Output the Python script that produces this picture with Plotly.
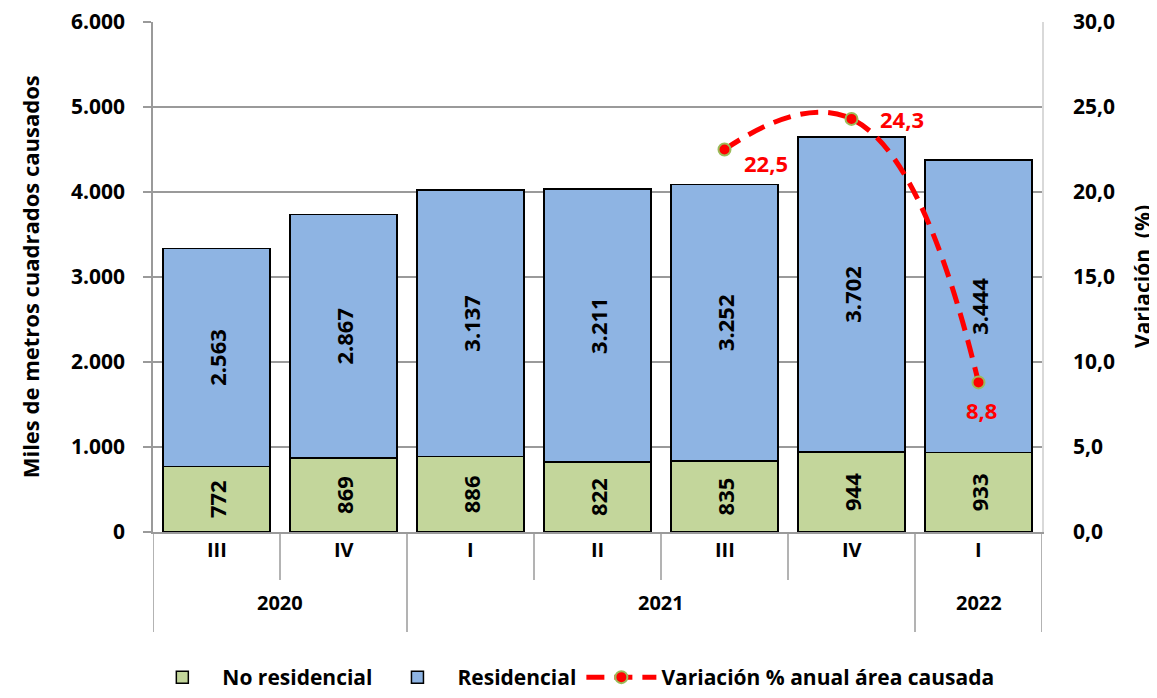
import plotly.graph_objects as go

quarters = ["III", "IV", "I", "II", "III", "IV", "I"]
years = ["2020", "2020", "2021", "2021", "2021", "2021", "2022"]
no_residencial = [772, 869, 886, 822, 835, 944, 933]
residencial = [2563, 2867, 3137, 3211, 3252, 3702, 3444]
variacion = [None, None, None, None, 22.5, 24.3, 8.8]

cats = [f"{q} {y}" for q, y in zip(quarters, years)]

FONT = "Open Sans"
GREEN = "#C3D69B"
BLUE = "#8EB4E3"
GRID = "#9A9A9A"
RED = "#FF0000"

fig = go.Figure()
fig.add_trace(go.Bar(
    x=cats, y=no_residencial, name="No residencial",
    marker=dict(color=GREEN, line=dict(color="black", width=1.5)),
    text=no_residencial, texttemplate="%{y:,}", textposition="inside",
    insidetextanchor="middle", textangle=-90,
    textfont=dict(family=FONT, size=22, color="black", weight="bold"),
))
fig.add_trace(go.Bar(
    x=cats, y=residencial, name="Residencial",
    marker=dict(color=BLUE, line=dict(color="black", width=1.5)),
    text=residencial, texttemplate="%{y:,}", textposition="inside",
    insidetextanchor="middle", textangle=-90,
    textfont=dict(family=FONT, size=22, color="black", weight="bold"),
))
lx = [c for c, v in zip(cats, variacion) if v is not None]
ly = [v for v in variacion if v is not None]
fig.add_trace(go.Scatter(
    x=lx, y=ly, yaxis="y2", name="Variación % anual área causada",
    mode="lines+markers",
    line=dict(color=RED, width=5, dash="18px,10px", shape="spline", smoothing=1.3),
    marker=dict(color=RED, size=12, line=dict(color="#9BBB59", width=2)),
    cliponaxis=False,
))

shapes = []
annotations = []
n = len(cats)
for i in range(n + 1):
    xb = i - 0.5
    is_year_break = i == 0 or i == n or years[i] != years[i - 1]
    shapes.append(dict(type="line", xref="x", yref="paper", x0=xb, x1=xb,
                       y0=0, y1=-0.196 if is_year_break else -0.094,
                       line=dict(color=GRID, width=1.5)))
for i, q in enumerate(quarters):
    annotations.append(dict(x=i, y=-0.065, xref="x", yref="paper", text=q,
                            showarrow=False,
                            font=dict(family=FONT, size=20, color="black", weight="bold")))
uniq = []
for i, y in enumerate(years):
    if not uniq or uniq[-1][0] != y:
        uniq.append([y, i, i])
    else:
        uniq[-1][2] = i
for y, a, b in uniq:
    annotations.append(dict(x=(a + b) / 2, y=-0.169, xref="x", yref="paper", text=y,
                            showarrow=False,
                            font=dict(family=FONT, size=20, color="black", weight="bold")))

label_shift = [(41, -13), (50, 0), (3, -28)]
for c, v, (dx, dy) in zip(lx, ly, label_shift):
    annotations.append(dict(x=c, y=v, xref="x", yref="y2",
                            text=f"{v:.1f}".replace(".", ","), showarrow=False,
                            xshift=dx, yshift=dy,
                            font=dict(family=FONT, size=22, color=RED, weight="bold")))

annotations.append(dict(x=-0.138, y=0.5, xref="paper", yref="paper",
                        text="Miles de metros cuadrados causados", textangle=-90,
                        showarrow=False, xanchor="center", yanchor="middle",
                        font=dict(family=FONT, size=22, color="black", weight="bold")))
annotations.append(dict(x=1.1125, y=0.5, xref="paper", yref="paper",
                        text="Variación  (%)", textangle=-90,
                        showarrow=False, xanchor="center", yanchor="middle",
                        font=dict(family=FONT, size=21, color="black", weight="bold")))

fig.update_layout(
    width=1149, height=690,
    margin=dict(l=145, r=115, t=14, b=166, autoexpand=False),
    barmode="stack", bargap=0.155,
    separators=",.",
    plot_bgcolor="white", paper_bgcolor="white",
    font=dict(family=FONT, color="black"),
    showlegend=True,
    legend=dict(orientation="h", x=0.47, xanchor="center", y=-0.3255, yanchor="bottom",
                font=dict(family=FONT, size=21, color="black", weight="bold"),
                traceorder="normal", itemwidth=70),
    xaxis=dict(showticklabels=False, showgrid=False, showline=True, linecolor=GRID,
               linewidth=1.5, ticks="", range=[-0.5, n - 0.5]),
    yaxis=dict(range=[0, 6000], dtick=1000, tickformat=",d", showgrid=True,
               gridcolor=GRID, gridwidth=1.5, showline=True, linecolor=GRID, linewidth=1.5,
               ticks="outside", tickcolor=GRID, ticklen=8, tickwidth=1.5,
               ticklabelstandoff=14, automargin=False, ticklabeloverflow="allow",
               tickfont=dict(family=FONT, size=21, color="black", weight="bold"),
               zeroline=False),
    yaxis2=dict(range=[0, 30], dtick=5, tickformat=".1f", overlaying="y", side="right",
                showgrid=False, showline=True, linecolor="#D9D9D9", linewidth=1.5,
                ticks="", ticklabelstandoff=25, automargin=False, ticklabeloverflow="allow",
                tickfont=dict(family=FONT, size=21, color="black", weight="bold"),
                zeroline=False),
    shapes=shapes, annotations=annotations,
)

fig.write_html("out.html")
